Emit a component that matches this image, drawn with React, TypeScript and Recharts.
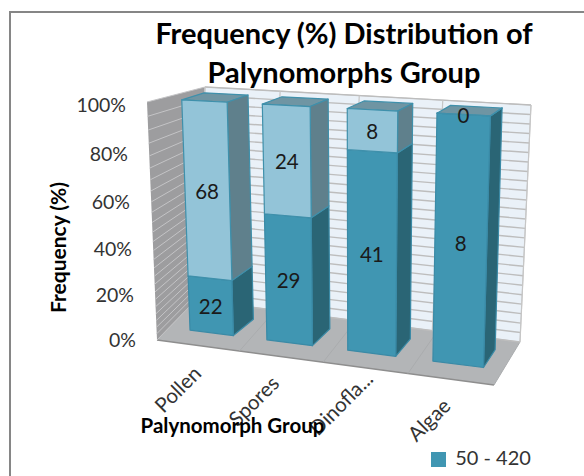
import React from 'react'
import { BarChart, Bar, XAxis, YAxis, Legend, LabelList } from 'recharts'

const categories = ['Pollen', 'Spores', 'Dinofla...', 'Algae']
const lowerValues = [22, 29, 41, 8]
const upperValues = [68, 24, 8, 0]
const percentTicks = [0, 0.2, 0.4, 0.6, 0.8, 1]
const wallLines = [0, 0.04, 0.08, 0.12, 0.16, 0.2, 0.24, 0.28, 0.32, 0.36, 0.4, 0.44, 0.48, 0.52, 0.56, 0.6, 0.64, 0.68, 0.72, 0.76, 0.8, 0.84, 0.88, 0.92, 0.96, 1]

const chartData = categories.map((name, i) => ({ name, lower: lowerValues[i], upper: upperValues[i] }))

const FONT = 'Lato, sans-serif'

// plot rectangle in page pixels, everything below is projected out of it
const PLOT = { left: 157, top: 105, width: 337, height: 235 }

type Pt = [number, number]

// unit square -> quad (tl, tr, br, bl)
function quadMap([p0, p1, p2, p3]: Pt[]) {
  const dx1 = p1[0] - p2[0], dx2 = p3[0] - p2[0], sx = p0[0] - p1[0] + p2[0] - p3[0]
  const dy1 = p1[1] - p2[1], dy2 = p3[1] - p2[1], sy = p0[1] - p1[1] + p2[1] - p3[1]
  const den = dx1 * dy2 - dx2 * dy1
  const g = (sx * dy2 - dx2 * sy) / den
  const h = (dx1 * sy - sx * dy1) / den
  const a = p1[0] - p0[0] + g * p1[0], b = p3[0] - p0[0] + h * p3[0]
  const d = p1[1] - p0[1] + g * p1[1], e = p3[1] - p0[1] + h * p3[1]
  return (u: number, v: number): Pt => {
    const w = g * u + h * v + 1
    return [(a * u + b * v + p0[0]) / w, (d * u + e * v + p0[1]) / w]
  }
}

const frontPlane = quadMap([[165, 99], [511, 117], [503, 370], [174, 328]])
const backPlane = quadMap([[188, 92], [522, 109], [514, 352], [196, 312]])
const backWall = quadMap([[205, 87], [531, 105], [520, 342], [196, 300]])
const sideWall = quadMap([[147, 102], [205, 87], [196, 300], [157, 340]])
const floor = quadMap([[157, 340], [494, 385], [520, 342], [196, 300]])

const toPlane = (plane: ReturnType<typeof quadMap>, x: number, y: number) =>
  plane((x - PLOT.left) / PLOT.width, (y - PLOT.top) / PLOT.height)

const poly = (pts: Pt[]) => pts.map(p => p.join(',')).join(' ')

const lineOf = (a: Pt, b: Pt, stroke: string, key: string, w = 1.2) => (
  <line key={key} x1={a[0]} y1={a[1]} x2={b[0]} y2={b[1]} stroke={stroke} strokeWidth={w} />
)

function Room() {
  const verticals = [0, 0.25, 0.5, 0.75, 1]
  return (
    <g>
      <rect x={10} y={12} width={600} height={500} fill="#fff" stroke="#868686" strokeWidth={2} />
      <polygon points={poly([sideWall(0, 0), sideWall(1, 0), sideWall(1, 1), sideWall(0, 1)])} fill="#9d9d9f" />
      <polygon points={poly([backWall(0, 0), backWall(1, 0), backWall(1, 1), backWall(0, 1)])} fill="#eaf1f8" stroke="#c6c6c6" />
      <polygon points={poly([floor(0, 0), floor(1, 0), floor(1, 1), floor(0, 1)])} fill="#b3b5b7" />
      {lineOf(floor(0, 0), floor(1, 0), '#8e8e8e', 'floor-edge', 1.5)}
      {verticals.map(u => lineOf(floor(u, 0), floor(u, 1), '#aaacae', `fl-${u}`, 1))}
      {wallLines.map(v => lineOf(backWall(0, 1 - v), backWall(1, 1 - v), '#bdbdbd', `w-${v}`, 1.4))}
      {wallLines.map(v => lineOf(sideWall(0, 1 - v), sideWall(1, 1 - v), '#c4c4c6', `s-${v}`, 1))}
      {verticals.map(u => lineOf(backWall(u, 0), backWall(u, 1), '#c6c6c6', `wv-${u}`, 1.2))}
      <text x={344} y={44} textAnchor="middle" fontFamily={FONT} fontWeight={700} fontSize={29} fill="#000">
        Frequency (%) Distribution of
      </text>
      <text x={344} y={83} textAnchor="middle" fontFamily={FONT} fontWeight={700} fontSize={29} fill="#000">
        Palynomorphs Group
      </text>
    </g>
  )
}

function Block({ x, y, width, height, front, side, top, edge }: any) {
  const fp = (px: number, py: number) => toPlane(frontPlane, px, py)
  const bp = (px: number, py: number) => toPlane(backPlane, px, py)
  const tl = fp(x, y), tr = fp(x + width, y), br = fp(x + width, y + height), bl = fp(x, y + height)
  const btl = bp(x, y), btr = bp(x + width, y), bbr = bp(x + width, y + height)
  return (
    <g stroke={edge} strokeWidth={1.2} strokeLinejoin="round">
      {top && <polygon points={poly([tl, tr, btr, btl])} fill={top} />}
      <polygon points={poly([tr, btr, bbr, br])} fill={side} />
      <polygon points={poly([tl, tr, br, bl])} fill={front} />
    </g>
  )
}

function BlockLabel({ x, y, width, height, value }: any) {
  const [cx, cy] = toPlane(frontPlane, x + width / 2, y + height / 2)
  return (
    <text x={cx} y={cy + 8} textAnchor="middle" fontFamily={FONT} fontSize={20.5} fill="#1a1a1a">
      {value}
    </text>
  )
}

function PercentTick({ y, payload }: any) {
  // labels lean along the side wall and bow a little with the perspective
  const t = (PLOT.top + PLOT.height - y) / PLOT.height
  return (
    <text x={136 - 10 * t} y={y + 7 + 12 * t * (1 - t)} textAnchor="end" fontFamily={FONT} fontSize={19.5} fill="#333">
      {Math.round(payload.value * 100)}%
    </text>
  )
}

// Excel placed these rotated labels unevenly
const tickNudge: Pt[] = [[0, 6], [0, 6], [12, -9], [3, 7]]

function CategoryTick({ x, payload, index }: any) {
  const [px, py] = toPlane(frontPlane, x, PLOT.top + PLOT.height)
  const [nx, ny] = tickNudge[index] ?? [0, 0]
  const ax = px - 9 + nx, ay = py + 36 + ny
  return (
    <text x={ax} y={ay} textAnchor="end" transform={`rotate(-45 ${ax} ${ay})`} fontFamily={FONT} fontSize={20.5} fill="#333">
      {payload.value}
    </text>
  )
}

export default function App() {
  return (
    <div style={{ position: 'absolute', left: 0, top: 0 }}>
      <BarChart
        width={584}
        height={476}
        data={chartData}
        stackOffset="expand"
        barCategoryGap="21.5%"
        margin={{ top: PLOT.top, left: 0, right: 584 - PLOT.left - PLOT.width, bottom: 0 }}
      >
        <Room />
        <XAxis
          dataKey="name"
          height={476 - PLOT.top - PLOT.height}
          axisLine={false}
          tickLine={false}
          interval={0}
          tick={<CategoryTick />}
          label={{ value: 'Palynomorph Group', position: 'insideTop', offset: 78, dx: -93, fontFamily: FONT, fontWeight: 700, fontSize: 20.5, fill: '#000' }}
        />
        <YAxis
          width={PLOT.left}
          domain={[0, 1]}
          ticks={percentTicks}
          axisLine={false}
          tickLine={false}
          tick={<PercentTick />}
          label={{ value: 'Frequency (%)', angle: -90, position: 'insideLeft', offset: 59, dy: 25, textAnchor: 'middle', fontFamily: FONT, fontWeight: 700, fontSize: 21, fill: '#000' }}
        />
        <Legend
          layout="horizontal"
          verticalAlign="middle"
          iconType="square"
          iconSize={15}
          wrapperStyle={{ position: 'absolute', left: 421, top: 445, width: 130, fontFamily: FONT, fontSize: 20 }}
          formatter={(value: string) => <span style={{ color: '#333', marginLeft: 5 }}>{value}</span>}
        />
        <Bar
          dataKey="lower"
          name="50 - 420"
          stackId="freq"
          fill="#4096b2"
          isAnimationActive={false}
          shape={(p: any) => <Block {...p} front="#4096b2" side="#2a6575" edge="#3a8aa6" />}
        >
          <LabelList dataKey="lower" content={<BlockLabel />} />
        </Bar>
        <Bar
          dataKey="upper"
          stackId="freq"
          fill="#93c4d8"
          legendType="none"
          isAnimationActive={false}
          shape={(p: any) => <Block {...p} front="#93c4d8" side="#5f808c" top="#6f95a3" edge="#3f90ab" />}
        >
          <LabelList dataKey="upper" content={<BlockLabel />} />
        </Bar>
      </BarChart>
    </div>
  )
}
